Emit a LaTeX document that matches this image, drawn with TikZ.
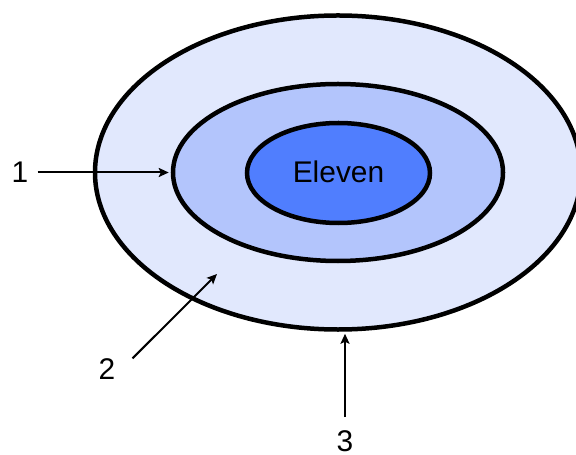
\documentclass[tikz,border=0pt]{standalone}
\usepackage{xcolor}
\usepackage{fontspec}
\setmainfont{Liberation Sans}
\usepackage{tikz}
\usetikzlibrary{arrows.meta, calc, shapes.geometric}

\definecolor{ringout}{RGB}{225,232,253}
\definecolor{ringmid}{RGB}{179,197,252}
\definecolor{ringin}{RGB}{80,126,254}

\begin{document}
\begin{tikzpicture}[x=1bp, y=-1bp,
    ring/.style={ellipse, draw=black, line width=4.5bp, inner sep=0pt},
    numlabel/.style={inner sep=0pt, font=\fontsize{30}{36}\selectfont},
    pointer/.style={line width=2bp, -{Stealth[length=10bp, width=9bp, inset=2bp]}, shorten >=2bp}]
    \useasboundingbox (0,0) rectangle (576,455);

    % Draw the three nested rings
    \node[ring, fill=ringout, minimum width=486bp, minimum height=314bp] (outer) at (338,172.5) {};
    \node[ring, fill=ringmid, minimum width=330bp, minimum height=177bp] (mid) at (338,172.5) {};
    \node[ring, fill=ringin, minimum width=183bp, minimum height=100bp,
          font=\fontsize{30}{36}\selectfont] (inner) at (338.5,173) {\raisebox{3bp}{Eleven}};

    % Numbered labels
    \node[numlabel] (n1) at (20,172.5) {1};
    \node[numlabel] (n2) at (107,369) {2};
    \node[numlabel] (n3) at (345,441) {3};
    \coordinate (p2) at (217,274);

    % Pointers
    \draw[pointer] ([xshift=9bp]n1.east) -- (mid.west);
    \draw[pointer, shorten >=0bp] ([xshift=17bp]n2.north east) -- (p2);
    \draw[pointer] ([yshift=13bp]n3.north) -- (n3 |- outer.south);
\end{tikzpicture}
\end{document}
